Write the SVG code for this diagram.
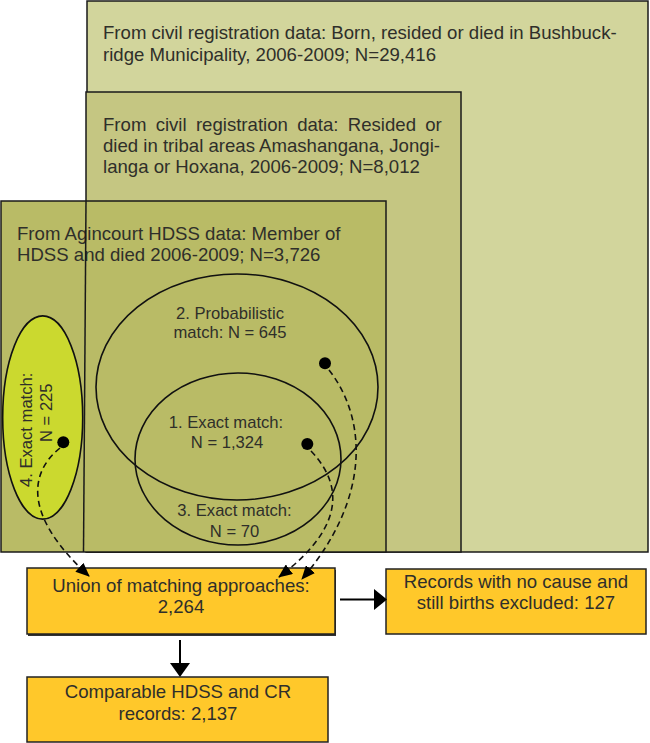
<svg xmlns="http://www.w3.org/2000/svg" width="650" height="743" viewBox="0 0 650 743">
<style>
  .lbl{font-family:"Liberation Sans",Arial,sans-serif;font-size:18.6px;fill:#2f2f2a}
  .sm{font-family:"Liberation Sans",Arial,sans-serif;font-size:16.6px;fill:#2f2f2a}
  .mid{text-anchor:middle}
  .area{stroke:#1a1a1a;stroke-width:1.5}
  .ell{fill:none;stroke:#111;stroke-width:1.6}
  .box{fill:#ffc82a;stroke:#222;stroke-width:1.5}
  .shadow{fill:#333}
  .dash{fill:none;stroke:#111;stroke-width:1.6;stroke-dasharray:6 4;marker-end:url(#ah)}
  .solid{stroke:#000;stroke-width:2}
  .dot{fill:#000}
</style>
<defs>
  <marker id="ah" markerUnits="userSpaceOnUse" markerWidth="14" markerHeight="12" refX="13" refY="6" orient="auto" viewBox="0 0 14 12">
    <path d="M0,0 L14,6 L0,12 Z" fill="#000"/>
  </marker>
</defs>
<rect width="650" height="743" fill="#fff"/>

<g id="cr-all">
  <rect class="area" x="87" y="1" width="561" height="551" fill="#d2d59c"/>
  <text class="lbl" x="103" y="39">From civil registration data: Born, resided or died in Bushbuck-</text>
  <text class="lbl" x="103" y="61">ridge Municipality, 2006-2009; N=29,416</text>
</g>

<g id="cr-tribal">
  <rect class="area" x="86" y="92" width="375" height="460" fill="#c5c682"/>
  <text class="lbl" x="103" y="131" word-spacing="4.1">From civil registration data: Resided or</text>
  <text class="lbl" x="103" y="152">died in tribal areas Amashangana, Jongi-</text>
  <text class="lbl" x="103" y="173">langa or Hoxana, 2006-2009; N=8,012</text>
</g>

<g id="hdss">
  <rect class="area" x="1" y="201" width="385" height="351" fill="#b9bb66"/>
  <text class="lbl" x="17" y="239.5">From Agincourt HDSS data: Member of</text>
  <text class="lbl" x="17" y="261">HDSS and died 2006-2009; N=3,726</text>
</g>

<line class="area" x1="86" y1="201" x2="83.5" y2="552"/>

<g id="match2">
  <ellipse class="ell" cx="237" cy="387" rx="141" ry="113"/>
  <text class="sm mid" x="230" y="318.5">2. Probabilistic</text>
  <text class="sm mid" x="230" y="337.5">match: N = 645</text>
</g>

<g id="match1-3">
  <ellipse class="ell" cx="238" cy="459" rx="103" ry="86"/>
  <text class="sm mid" x="226" y="428">1. Exact match:</text>
  <text class="sm mid" x="227" y="447.5">N = 1,324</text>
  <text class="sm mid" x="234.5" y="516">3. Exact match:</text>
  <text class="sm mid" x="234.5" y="536.5">N = 70</text>
</g>

<g id="match4">
  <ellipse cx="42.7" cy="417.5" rx="40" ry="101.6" fill="#cbd92f" stroke="#111" stroke-width="1.6"/>
  <text class="sm" transform="translate(32,487) rotate(-90)">4. Exact match:</text>
  <text class="sm" transform="translate(51.5,442) rotate(-90)">N = 225</text>
</g>

<g id="dots">
  <circle class="dot" cx="63.3" cy="442.3" r="6"/>
  <circle class="dot" cx="307.3" cy="444" r="6"/>
  <circle class="dot" cx="325" cy="363.3" r="6"/>
</g>

<g id="union">
  <rect class="shadow" x="28" y="570" width="308" height="66"/>
  <rect class="box" x="27" y="568" width="308" height="66"/>
  <text class="lbl mid" x="181" y="591.5">Union of matching approaches:</text>
  <text class="lbl mid" x="181" y="613">2,264</text>
</g>

<g id="excluded">
  <rect class="box" x="386" y="569" width="260" height="65"/>
  <text class="lbl mid" x="516" y="587.5">Records with no cause and</text>
  <text class="lbl mid" x="516" y="608.5">still births excluded: 127</text>
</g>

<g id="comparable">
  <rect class="box" x="27" y="677" width="301" height="65"/>
  <text class="lbl mid" x="178" y="698">Comparable HDSS and CR</text>
  <text class="lbl mid" x="178" y="720">records: 2,137</text>
</g>

<g id="connectors">
  <path class="dash" d="M60,448 C30,472 22,515 89,576"/>
  <path class="dash" d="M311,451 C350,492 335,535 279,577"/>
  <path class="dash" d="M329,370 C368,420 370,500 302,579"/>
  <line class="solid" x1="340" y1="599.5" x2="375" y2="599.5"/>
  <polygon points="374,589 387,599.5 374,610" fill="#000"/>
  <line class="solid" x1="180" y1="640" x2="180" y2="664"/>
  <polygon points="170,663 190,663 180,677" fill="#000"/>
</g>
</svg>
